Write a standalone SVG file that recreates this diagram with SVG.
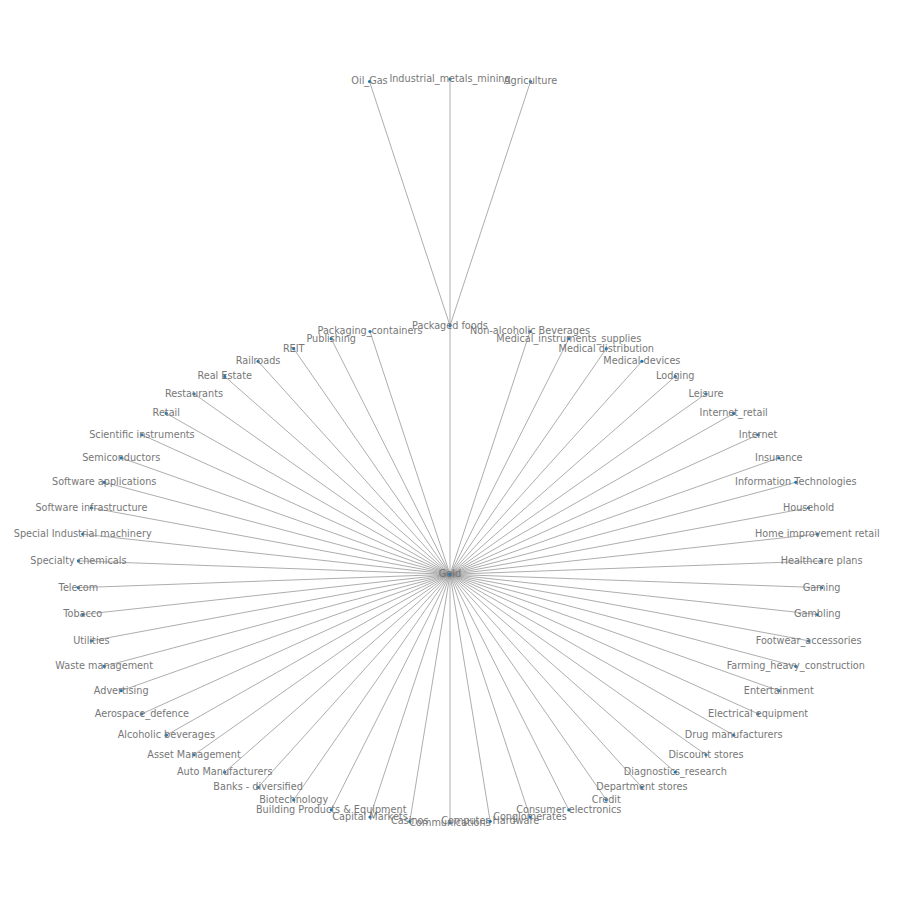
<svg xmlns="http://www.w3.org/2000/svg" width="900" height="900" viewBox="0 0 900 900">
<style>
.e line{stroke:#8a8a8a;stroke-width:0.7}
.n circle{fill:#1f78b4}
.n text{font-family:"DejaVu Sans",sans-serif;font-size:9.7px;fill:#777;text-anchor:middle}
</style>
<rect width="900" height="900" fill="#fff"/>
<g id="edges" class="e">
<line x1="450" y1="325.7" x2="369.5" y2="81.5"/>
<line x1="450" y1="325.7" x2="450" y2="79"/>
<line x1="450" y1="325.7" x2="530.5" y2="81.5"/>
<line x1="450" y1="574.3" x2="450" y2="325.7"/>
<line x1="450" y1="574.3" x2="370" y2="331.5"/>
<line x1="450" y1="574.3" x2="331.2" y2="338.7"/>
<line x1="450" y1="574.3" x2="293.7" y2="348.7"/>
<line x1="450" y1="574.3" x2="258.1" y2="361.3"/>
<line x1="450" y1="574.3" x2="224.7" y2="376.4"/>
<line x1="450" y1="574.3" x2="194" y2="393.8"/>
<line x1="450" y1="574.3" x2="166.3" y2="413.4"/>
<line x1="450" y1="574.3" x2="141.9" y2="434.8"/>
<line x1="450" y1="574.3" x2="121.2" y2="457.9"/>
<line x1="450" y1="574.3" x2="104.2" y2="482.3"/>
<line x1="450" y1="574.3" x2="91.4" y2="507.8"/>
<line x1="450" y1="574.3" x2="82.7" y2="534.1"/>
<line x1="450" y1="574.3" x2="78.4" y2="560.9"/>
<line x1="450" y1="574.3" x2="78.4" y2="587.7"/>
<line x1="450" y1="574.3" x2="82.7" y2="614.5"/>
<line x1="450" y1="574.3" x2="91.4" y2="640.8"/>
<line x1="450" y1="574.3" x2="104.2" y2="666.3"/>
<line x1="450" y1="574.3" x2="121.2" y2="690.7"/>
<line x1="450" y1="574.3" x2="141.9" y2="713.8"/>
<line x1="450" y1="574.3" x2="166.3" y2="735.2"/>
<line x1="450" y1="574.3" x2="194" y2="754.8"/>
<line x1="450" y1="574.3" x2="224.7" y2="772.2"/>
<line x1="450" y1="574.3" x2="258.1" y2="787.3"/>
<line x1="450" y1="574.3" x2="293.7" y2="799.9"/>
<line x1="450" y1="574.3" x2="331.2" y2="809.9"/>
<line x1="450" y1="574.3" x2="370" y2="817.1"/>
<line x1="450" y1="574.3" x2="409.8" y2="821.4"/>
<line x1="450" y1="574.3" x2="450" y2="822.9"/>
<line x1="450" y1="574.3" x2="490.2" y2="821.4"/>
<line x1="450" y1="574.3" x2="530" y2="817.1"/>
<line x1="450" y1="574.3" x2="568.8" y2="809.9"/>
<line x1="450" y1="574.3" x2="606.3" y2="799.9"/>
<line x1="450" y1="574.3" x2="641.9" y2="787.3"/>
<line x1="450" y1="574.3" x2="675.3" y2="772.2"/>
<line x1="450" y1="574.3" x2="706" y2="754.8"/>
<line x1="450" y1="574.3" x2="733.7" y2="735.2"/>
<line x1="450" y1="574.3" x2="758.1" y2="713.8"/>
<line x1="450" y1="574.3" x2="778.8" y2="690.7"/>
<line x1="450" y1="574.3" x2="795.8" y2="666.3"/>
<line x1="450" y1="574.3" x2="808.6" y2="640.8"/>
<line x1="450" y1="574.3" x2="817.3" y2="614.5"/>
<line x1="450" y1="574.3" x2="821.6" y2="587.7"/>
<line x1="450" y1="574.3" x2="821.6" y2="560.9"/>
<line x1="450" y1="574.3" x2="817.3" y2="534.1"/>
<line x1="450" y1="574.3" x2="808.6" y2="507.8"/>
<line x1="450" y1="574.3" x2="795.8" y2="482.3"/>
<line x1="450" y1="574.3" x2="778.8" y2="457.9"/>
<line x1="450" y1="574.3" x2="758.1" y2="434.8"/>
<line x1="450" y1="574.3" x2="733.7" y2="413.4"/>
<line x1="450" y1="574.3" x2="706" y2="393.8"/>
<line x1="450" y1="574.3" x2="675.3" y2="376.4"/>
<line x1="450" y1="574.3" x2="641.9" y2="361.3"/>
<line x1="450" y1="574.3" x2="606.3" y2="348.7"/>
<line x1="450" y1="574.3" x2="568.8" y2="338.7"/>
<line x1="450" y1="574.3" x2="530" y2="331.5"/>
</g>
<g class="n">
<g id="n-gold"><circle cx="450" cy="574.3" r="1.6"/><text x="450" y="577.2">Gold</text></g>
<g id="n-oil-gas"><circle cx="369.5" cy="81.5" r="1.6"/><text x="369.5" y="84.4">Oil_Gas</text></g>
<g id="n-industrial-metals"><circle cx="450" cy="79" r="1.6"/><text x="450" y="81.9">Industrial_metals_mining</text></g>
<g id="n-agriculture"><circle cx="530.5" cy="81.5" r="1.6"/><text x="530.5" y="84.4">Agriculture</text></g>
<g id="n-packaged-foods"><circle cx="450" cy="325.7" r="1.6"/><text x="450" y="328.6">Packaged foods</text></g>
<g id="n-packaging"><circle cx="370" cy="331.5" r="1.6"/><text x="370" y="334.4">Packaging_containers</text></g>
<g id="n-publishing"><circle cx="331.2" cy="338.7" r="1.6"/><text x="331.2" y="341.6">Publishing</text></g>
<g id="n-reit"><circle cx="293.7" cy="348.7" r="1.6"/><text x="293.7" y="351.6">REIT</text></g>
<g id="n-railroads"><circle cx="258.1" cy="361.3" r="1.6"/><text x="258.1" y="364.2">Railroads</text></g>
<g id="n-real-estate"><circle cx="224.7" cy="376.4" r="1.6"/><text x="224.7" y="379.3">Real Estate</text></g>
<g id="n-restaurants"><circle cx="194" cy="393.8" r="1.6"/><text x="194" y="396.7">Restaurants</text></g>
<g id="n-retail"><circle cx="166.3" cy="413.4" r="1.6"/><text x="166.3" y="416.3">Retail</text></g>
<g id="n-scientific"><circle cx="141.9" cy="434.8" r="1.6"/><text x="141.9" y="437.7">Scientific instruments</text></g>
<g id="n-semiconductors"><circle cx="121.2" cy="457.9" r="1.6"/><text x="121.2" y="460.8">Semiconductors</text></g>
<g id="n-sw-apps"><circle cx="104.2" cy="482.3" r="1.6"/><text x="104.2" y="485.2">Software applications</text></g>
<g id="n-sw-infra"><circle cx="91.4" cy="507.8" r="1.6"/><text x="91.4" y="510.7">Software infrastructure</text></g>
<g id="n-special-ind"><circle cx="82.7" cy="534.1" r="1.6"/><text x="82.7" y="537">Special Industrial machinery</text></g>
<g id="n-specialty-chem"><circle cx="78.4" cy="560.9" r="1.6"/><text x="78.4" y="563.8">Specialty chemicals</text></g>
<g id="n-telecom"><circle cx="78.4" cy="587.7" r="1.6"/><text x="78.4" y="590.6">Telecom</text></g>
<g id="n-tobacco"><circle cx="82.7" cy="614.5" r="1.6"/><text x="82.7" y="617.4">Tobacco</text></g>
<g id="n-utilities"><circle cx="91.4" cy="640.8" r="1.6"/><text x="91.4" y="643.7">Utilities</text></g>
<g id="n-waste"><circle cx="104.2" cy="666.3" r="1.6"/><text x="104.2" y="669.2">Waste management</text></g>
<g id="n-advertising"><circle cx="121.2" cy="690.7" r="1.6"/><text x="121.2" y="693.6">Advertising</text></g>
<g id="n-aerospace"><circle cx="141.9" cy="713.8" r="1.6"/><text x="141.9" y="716.7">Aerospace_defence</text></g>
<g id="n-alcoholic"><circle cx="166.3" cy="735.2" r="1.6"/><text x="166.3" y="738.1">Alcoholic beverages</text></g>
<g id="n-asset-mgmt"><circle cx="194" cy="754.8" r="1.6"/><text x="194" y="757.7">Asset Management</text></g>
<g id="n-auto"><circle cx="224.7" cy="772.2" r="1.6"/><text x="224.7" y="775.1">Auto Manufacturers</text></g>
<g id="n-banks"><circle cx="258.1" cy="787.3" r="1.6"/><text x="258.1" y="790.2">Banks - diversified</text></g>
<g id="n-biotech"><circle cx="293.7" cy="799.9" r="1.6"/><text x="293.7" y="802.8">Biotechnology</text></g>
<g id="n-building"><circle cx="331.2" cy="809.9" r="1.6"/><text x="331.2" y="812.8">Building Products &amp; Equipment</text></g>
<g id="n-capital"><circle cx="370" cy="817.1" r="1.6"/><text x="370" y="820">Capital Markets</text></g>
<g id="n-casinos"><circle cx="409.8" cy="821.4" r="1.6"/><text x="409.8" y="824.3">Casinos</text></g>
<g id="n-communications"><circle cx="450" cy="822.9" r="1.6"/><text x="450" y="825.8">Communications</text></g>
<g id="n-computer-hw"><circle cx="490.2" cy="821.4" r="1.6"/><text x="490.2" y="824.3">Computer Hardware</text></g>
<g id="n-conglomerates"><circle cx="530" cy="817.1" r="1.6"/><text x="530" y="820">Conglomerates</text></g>
<g id="n-consumer-elec"><circle cx="568.8" cy="809.9" r="1.6"/><text x="568.8" y="812.8">Consumer electronics</text></g>
<g id="n-credit"><circle cx="606.3" cy="799.9" r="1.6"/><text x="606.3" y="802.8">Credit</text></g>
<g id="n-department"><circle cx="641.9" cy="787.3" r="1.6"/><text x="641.9" y="790.2">Department stores</text></g>
<g id="n-diagnostics"><circle cx="675.3" cy="772.2" r="1.6"/><text x="675.3" y="775.1">Diagnostics_research</text></g>
<g id="n-discount"><circle cx="706" cy="754.8" r="1.6"/><text x="706" y="757.7">Discount stores</text></g>
<g id="n-drug"><circle cx="733.7" cy="735.2" r="1.6"/><text x="733.7" y="738.1">Drug manufacturers</text></g>
<g id="n-electrical"><circle cx="758.1" cy="713.8" r="1.6"/><text x="758.1" y="716.7">Electrical equipment</text></g>
<g id="n-entertainment"><circle cx="778.8" cy="690.7" r="1.6"/><text x="778.8" y="693.6">Entertainment</text></g>
<g id="n-farming"><circle cx="795.8" cy="666.3" r="1.6"/><text x="795.8" y="669.2">Farming_heavy_construction</text></g>
<g id="n-footwear"><circle cx="808.6" cy="640.8" r="1.6"/><text x="808.6" y="643.7">Footwear_accessories</text></g>
<g id="n-gambling"><circle cx="817.3" cy="614.5" r="1.6"/><text x="817.3" y="617.4">Gambling</text></g>
<g id="n-gaming"><circle cx="821.6" cy="587.7" r="1.6"/><text x="821.6" y="590.6">Gaming</text></g>
<g id="n-healthcare"><circle cx="821.6" cy="560.9" r="1.6"/><text x="821.6" y="563.8">Healthcare plans</text></g>
<g id="n-home-improvement"><circle cx="817.3" cy="534.1" r="1.6"/><text x="817.3" y="537">Home improvement retail</text></g>
<g id="n-household"><circle cx="808.6" cy="507.8" r="1.6"/><text x="808.6" y="510.7">Household</text></g>
<g id="n-info-tech"><circle cx="795.8" cy="482.3" r="1.6"/><text x="795.8" y="485.2">Information Technologies</text></g>
<g id="n-insurance"><circle cx="778.8" cy="457.9" r="1.6"/><text x="778.8" y="460.8">Insurance</text></g>
<g id="n-internet"><circle cx="758.1" cy="434.8" r="1.6"/><text x="758.1" y="437.7">Internet</text></g>
<g id="n-internet-retail"><circle cx="733.7" cy="413.4" r="1.6"/><text x="733.7" y="416.3">Internet_retail</text></g>
<g id="n-leisure"><circle cx="706" cy="393.8" r="1.6"/><text x="706" y="396.7">Leisure</text></g>
<g id="n-lodging"><circle cx="675.3" cy="376.4" r="1.6"/><text x="675.3" y="379.3">Lodging</text></g>
<g id="n-medical-devices"><circle cx="641.9" cy="361.3" r="1.6"/><text x="641.9" y="364.2">Medical devices</text></g>
<g id="n-medical-dist"><circle cx="606.3" cy="348.7" r="1.6"/><text x="606.3" y="351.6">Medical distribution</text></g>
<g id="n-medical-instr"><circle cx="568.8" cy="338.7" r="1.6"/><text x="568.8" y="341.6">Medical_instruments_supplies</text></g>
<g id="n-non-alcoholic"><circle cx="530" cy="331.5" r="1.6"/><text x="530" y="334.4">Non-alcoholic Beverages</text></g>
</g>
</svg>
